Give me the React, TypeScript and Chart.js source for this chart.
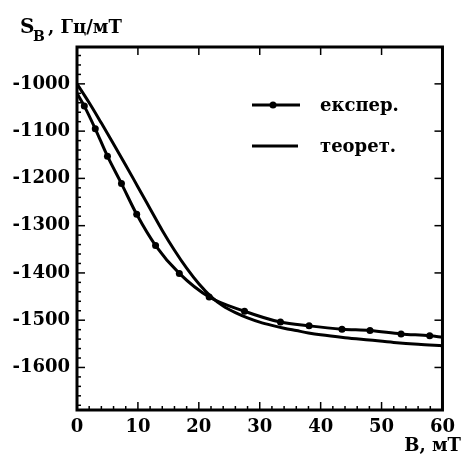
import React, { useEffect, useRef } from 'react';
import { Chart, registerables } from 'chart.js';

Chart.register(...registerables);

// Experimental points (B in mT, S_B in Hz/mT)
const expB = [1.2, 3.0, 5.0, 7.3, 9.8, 12.9, 16.8, 21.7, 27.5, 33.4, 38.1, 43.5, 48.1, 53.2, 57.9];
const expS = [-1047, -1095, -1153, -1211, -1276, -1342, -1401, -1451, -1481, -1504, -1512, -1519, -1522, -1529, -1533];
// Ends of the experimental fit curve (no markers)
const expCurveB = [0, 60];
const expCurveS = [-1020, -1536];

// Theoretical curve
const theoB = [0, 2, 4, 6, 8, 10, 12, 14, 16, 18, 20, 22, 24, 26, 28, 30, 32, 34, 36, 38, 40, 44, 48, 52, 56, 60];
const theoS = [-1000, -1040, -1083, -1127, -1172, -1218, -1264, -1310, -1352, -1390, -1423, -1450, -1470, -1484, -1495, -1504, -1511, -1517, -1522, -1527, -1531, -1537, -1542, -1547, -1551, -1554];

const xTickValues = [0, 10, 20, 30, 40, 50, 60];
const yTickValues = [-1000, -1100, -1200, -1300, -1400, -1500, -1600];
const legendLabels = ['експер.', 'теорет.'];
const yTitleMain = 'S';
const yTitleSub = 'B';
const yTitleUnit = ', Гц/мТ';
const xTitle = 'B, мТ';

const FONT = '"DejaVu Serif", "Liberation Serif", serif';

export default function App() {
  const ref = useRef<HTMLCanvasElement | null>(null);

  useEffect(() => {
    const canvas = ref.current;
    if (!canvas) return;

    const expData = [
      { x: expCurveB[0], y: expCurveS[0] },
      ...expB.map((b, i) => ({ x: b, y: expS[i] })),
      { x: expCurveB[1], y: expCurveS[1] },
    ];
    const expRadius = expData.map((_, i) => (i === 0 || i === expData.length - 1 ? 0 : 3.5));
    const theoData = theoB.map((b, i) => ({ x: b, y: theoS[i] }));

    const decor = {
      id: 'decor',
      afterDraw(chart: any) {
        const { ctx, chartArea: a, scales } = chart;
        const xs = scales.x;
        const ys = scales.y;
        const line = (x1: number, y1: number, x2: number, y2: number) => {
          ctx.beginPath();
          ctx.moveTo(x1, y1);
          ctx.lineTo(x2, y2);
          ctx.stroke();
        };
        ctx.save();
        ctx.strokeStyle = '#000';
        ctx.fillStyle = '#000';
        // frame
        ctx.lineWidth = 3;
        ctx.strokeRect(a.left, a.top, a.right - a.left, a.bottom - a.top);
        // ticks
        ctx.lineWidth = 1.5;
        for (let v = 0; v <= 60; v += 2) {
          const px = xs.getPixelForValue(v);
          const major = v % 10 === 0;
          line(px, a.bottom, px, a.bottom - (major ? 8 : 4));
          if (major && v > 0 && v < 60) line(px, a.top, px, a.top + 8);
        }
        for (let v = -1680; v <= -940; v += 20) {
          const py = ys.getPixelForValue(v);
          const major = v % 100 === 0;
          line(a.left, py, a.left + (major ? 8 : 4), py);
          if (major) line(a.right, py, a.right - 8, py);
        }
        // legend
        ctx.lineWidth = 3;
        const ly = [105, 146];
        line(252, ly[0], 300, ly[0]);
        ctx.beginPath();
        ctx.arc(273, ly[0], 3.5, 0, Math.PI * 2);
        ctx.fill();
        line(252, ly[1], 298, ly[1]);
        ctx.font = `bold 18px ${FONT}`;
        ctx.textBaseline = 'middle';
        ctx.textAlign = 'left';
        ctx.fillText(legendLabels[0], 320, ly[0] + 1);
        ctx.fillText(legendLabels[1], 320, ly[1] + 1);
        // axis titles
        ctx.textBaseline = 'alphabetic';
        ctx.font = `bold 20px ${FONT}`;
        ctx.fillText(yTitleMain, 20, 33);
        ctx.font = `bold 14px ${FONT}`;
        ctx.fillText(yTitleSub, 33, 41);
        ctx.font = `bold 18px ${FONT}`;
        ctx.fillText(yTitleUnit, 48, 33);
        ctx.textAlign = 'right';
        ctx.fillText(xTitle, 461, 451);
        ctx.restore();
      },
    };

    const chart = new Chart(canvas, {
      type: 'line',
      data: {
        datasets: [
          {
            label: legendLabels[0],
            data: expData,
            borderColor: '#000',
            backgroundColor: '#000',
            borderWidth: 3,
            pointRadius: expRadius,
            pointBorderWidth: 0,
            pointBackgroundColor: '#000',
            cubicInterpolationMode: 'monotone',
            fill: false,
          },
          {
            label: legendLabels[1],
            data: theoData,
            borderColor: '#000',
            borderWidth: 3,
            pointRadius: 0,
            cubicInterpolationMode: 'monotone',
            fill: false,
          },
        ],
      },
      options: {
        animation: false,
        responsive: false,
        maintainAspectRatio: false,
        layout: { padding: { left: 0, top: 47, right: 13, bottom: 0 } },
        plugins: {
          legend: { display: false },
          tooltip: { enabled: false },
          title: { display: false },
        },
        scales: {
          x: {
            type: 'linear',
            min: 0,
            max: 60,
            grid: { display: false, drawTicks: false },
            border: { display: false },
            afterFit: (s: any) => {
              s.height = 51;
            },
            afterBuildTicks: (s: any) => {
              s.ticks = xTickValues.map((v) => ({ value: v }));
            },
            ticks: {
              autoSkip: false,
              maxRotation: 0,
              padding: 7,
              color: '#000',
              font: { family: FONT, size: 18, weight: 'bold' },
              callback: (v: any) => String(v),
            },
          },
          y: {
            type: 'linear',
            min: -1690,
            max: -922,
            grid: { display: false, drawTicks: false },
            border: { display: false },
            afterFit: (s: any) => {
              s.width = 77;
            },
            afterBuildTicks: (s: any) => {
              s.ticks = yTickValues.map((v) => ({ value: v }));
            },
            ticks: {
              autoSkip: false,
              padding: 7,
              color: '#000',
              font: { family: FONT, size: 18, weight: 'bold' },
              callback: (v: any) => String(v),
            },
          },
        },
      },
      plugins: [decor],
    } as any);

    return () => chart.destroy();
  }, []);

  return (
    <div style={{ position: 'absolute', left: 0, top: 0, width: 462, height: 461, background: '#fff' }}>
      <canvas ref={ref} width={462} height={461} style={{ display: 'block' }} />
    </div>
  );
}
